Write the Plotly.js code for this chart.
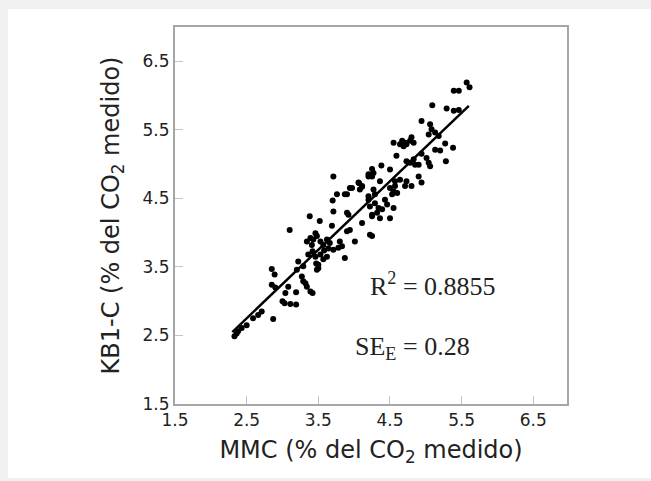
<!DOCTYPE html>
<html>
<head>
<meta charset="utf-8">
<script src="https://cdn.plot.ly/plotly-3.0.1.min.js"></script>
<style>
html,body{margin:0;padding:0;background:#f0f0f0;}
#chart{width:651px;height:481px;}
</style>
</head>
<body>
<div id="chart"></div>
<script>
// Measured points: MMC (x) vs KB1-C (y), % of measured CO2
const mmc = [
2.33,2.36,2.38,2.43,2.50,2.59,2.66,2.71,2.87,2.85,2.89,2.85,2.90,3.00,3.03,3.11,3.19,3.04,3.08,3.19,
3.22,3.27,3.29,3.32,3.34,3.39,3.42,3.36,3.42,3.46,3.50,3.48,3.29,3.20,3.47,3.50,
3.71,3.94,4.07,4.11,3.76,3.87,3.70,4.20,3.71,3.90,3.38,3.52,3.10,3.69,3.90,3.94,4.11,4.22,4.25,4.20,
4.22,4.29,4.32,4.25,4.01,3.34,3.39,3.43,3.48,3.53,3.57,3.41,3.46,3.62,3.66,3.71,3.78,3.83,3.80,3.87,
3.53,3.57,3.62,3.58,3.64,
4.94,5.06,5.08,5.04,5.13,4.55,4.67,4.71,4.69,4.73,4.78,4.80,4.83,4.64,4.59,5.13,4.94,5.01,5.04,5.06,
4.73,4.78,4.83,4.85,4.90,4.38,4.50,4.25,4.20,4.25,4.27,4.36,4.57,4.64,4.90,4.94,4.73,4.71,4.80,4.50,
4.55,4.57,4.53,4.60,4.06,4.11,4.08,3.97,3.90,4.27,4.29,4.20,4.43,4.46,4.55,4.34,4.39,4.25,4.50,4.36,
3.92,
5.57,5.61,5.39,5.46,5.09,5.29,5.39,5.46,5.18,5.27,5.38,5.28,5.20
];
const kb1c = [
2.49,2.53,2.56,2.61,2.65,2.75,2.80,2.85,2.74,3.47,3.39,3.24,3.20,3.00,2.97,2.96,2.95,3.12,3.21,3.13,
3.58,3.36,3.29,3.26,3.21,3.14,3.12,3.68,3.73,3.65,3.53,3.46,3.51,3.46,3.55,3.48,
4.82,4.65,4.72,4.67,4.56,4.56,4.47,4.82,4.31,4.29,4.24,4.17,4.04,4.10,4.02,4.04,4.14,3.97,3.95,4.48,
4.38,4.43,4.29,4.24,3.87,3.87,3.92,3.90,3.95,3.87,3.82,3.82,3.99,3.90,3.85,3.75,3.78,3.80,3.87,3.63,
3.68,3.61,3.65,3.74,3.77,
5.63,5.58,5.51,5.43,5.46,5.31,5.34,5.31,5.26,5.29,5.34,5.39,5.31,5.29,5.12,5.21,5.15,5.09,5.02,4.97,
5.04,5.02,5.07,4.99,4.99,4.98,4.92,4.93,4.85,4.82,4.87,4.75,4.75,4.77,4.82,4.73,4.75,4.68,4.68,4.65,
4.60,4.68,4.56,4.58,4.73,4.68,4.63,4.65,4.56,4.63,4.56,4.53,4.48,4.41,4.36,4.36,4.34,4.26,4.21,4.21,
4.26,
6.19,6.12,6.07,6.07,5.86,5.81,5.78,5.79,5.41,5.30,5.24,5.04,5.20
];
// Regression line end points
const fitX = [2.30, 5.60];
const fitY = [2.55, 5.85];
const tickVals = [1.5, 2.5, 3.5, 4.5, 5.5, 6.5];
const tickText = ['1.5', '2.5', '3.5', '4.5', '5.5', '6.5'];
const r2Text = 'R<sup>2</sup> = 0.8855';
const seText = 'SE<sub>E</sub> = 0.28';

const traces = [
  {x: mmc, y: kb1c, mode: 'markers', type: 'scatter',
   marker: {color: '#000', size: 6, symbol: 'circle'}, hoverinfo: 'x+y'},
  {x: fitX, y: fitY, mode: 'lines', type: 'scatter',
   line: {color: '#000', width: 2.5}}
];

const axisCommon = {
  tickvals: tickVals, ticktext: tickText,
  ticks: 'inside', ticklen: 8, tickwidth: 1, tickcolor: '#c4c4c4',
  showgrid: false, zeroline: false,
  showline: true, linecolor: '#a6a6a6', linewidth: 2, mirror: true,
  tickfont: {family: 'DejaVu Sans, Verdana, sans-serif', size: 17, color: '#222'}
};

const layout = {
  width: 651, height: 481,
  margin: {l: 175, r: 84, t: 27, b: 77},
  paper_bgcolor: '#f0f0f0', plot_bgcolor: '#fff',
  showlegend: false,
  xaxis: Object.assign({}, axisCommon, {
    range: [1.5, 6.97],
    title: {text: 'MMC (% del CO<sub>2</sub> medido)', standoff: 12,
      font: {family: 'DejaVu Sans, Verdana, sans-serif', size: 24, color: '#222'}}
  }),
  yaxis: Object.assign({}, axisCommon, {
    range: [1.5, 7.0],
    title: {text: 'KB1-C (% del CO<sub>2</sub> medido)', standoff: 16,
      font: {family: 'DejaVu Sans, Verdana, sans-serif', size: 24, color: '#222'}}
  }),
  shapes: [
    {type: 'rect', xref: 'paper', yref: 'paper', layer: 'below',
     x0: -0.426, x1: 1.22, y0: -0.196, y1: 1.048,
     fillcolor: '#fff', line: {width: 0}}
  ],
  annotations: [
    {x: 5.10, y: 3.24, xref: 'x', yref: 'y', text: r2Text, showarrow: false,
     font: {family: 'Liberation Serif, Times New Roman, serif', size: 26, color: '#222'}},
    {x: 4.82, y: 2.32, xref: 'x', yref: 'y', text: seText, showarrow: false,
     font: {family: 'Liberation Serif, Times New Roman, serif', size: 26, color: '#222'}}
  ]
};

Plotly.newPlot('chart', traces, layout, {displayModeBar: false, staticPlot: true});
</script>
</body>
</html>
